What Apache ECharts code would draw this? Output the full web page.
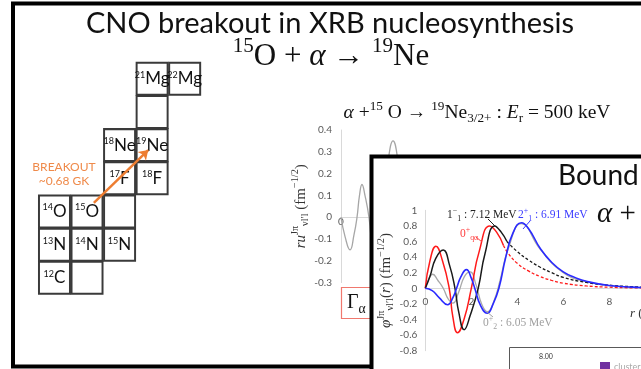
<!DOCTYPE html>
<html><head><meta charset="utf-8">
<script src="https://cdn.jsdelivr.net/npm/echarts@6/dist/echarts.min.js"></script>
<style>html,body{margin:0;padding:0;background:#fff}#c{width:641px;height:369px}</style>
</head><body><div id="c"></div>
<script>
// ---------- nuclide chart (N, Z, mass, element) ----------
const nucN    = [6, 7, 6, 7, 8, 6, 7, 8, 8, 9, 8, 9, 9, 9, 10];
const nucZ    = [6, 6, 7, 7, 7, 8, 8, 8, 9, 9, 10, 10, 11, 12, 12];
const nucMass = ['12', '', '13', '14', '15', '14', '15', '', '17', '18', '18', '19', '', '21', '22'];
const nucElem = ['C', '', 'N', 'N', 'N', 'O', 'O', '', 'F', 'F', 'Ne', 'Ne', '', 'Mg', 'Mg'];
const arrowFrom = [7.21, 8.26];
const arrowTo   = [8.88, 9.85];

// ---------- chart 1 : alpha + 15O scattering wave (r in fm, value) ----------
const wave1R = [0, 0.3, 0.66, 0.95, 1.17, 1.35, 1.53, 1.75, 2.04, 2.35, 2.65, 2.9, 3.15, 3.45, 3.8, 4.15, 4.5, 4.9, 5.3];
const wave1V = [0, -0.09, -0.15, -0.08, 0, 0.1, 0.15, 0.1, 0, -0.17, -0.22, -0.12, 0.05, 0.26, 0.35, 0.26, 0.05, -0.25, -0.3];
const y1Ticks = [-0.3, -0.2, -0.1, 0, 0.1, 0.2, 0.3, 0.4];
const x1Ticks = [0, 5, 10, 15, 20];

// ---------- chart 2 : bound-state wave functions ----------
const redSolidR = [0, 0.2, 0.46, 0.75, 1.04, 1.2, 1.4, 1.7, 2.0, 2.35, 2.8, 3.1, 3.4];
const redSolidV = [0, 0.35, 0.54, 0.35, 0, -0.37, -0.57, -0.38, 0, 0.48, 0.80, 0.72, 0.55];
const redTailR  = [3.4, 3.6, 4, 4.5, 5, 5.5, 6, 7, 8, 9, 10];
const redTailV  = [0.55, 0.45, 0.32, 0.22, 0.15, 0.1, 0.065, 0.03, 0.014, 0.006, 0.003];
const blackSolidR = [0, 0.2, 0.45, 0.78, 1.05, 1.29, 1.45, 1.69, 1.95, 2.3, 2.6, 3.02, 3.3, 3.55];
const blackSolidV = [0, 0.15, 0.38, 0.49, 0.3, 0, -0.3, -0.53, -0.35, 0, 0.45, 0.80, 0.72, 0.6];
const blackTailR  = [3.55, 4, 4.5, 5, 5.5, 6, 7, 8, 9, 10];
const blackTailV  = [0.6, 0.47, 0.36, 0.27, 0.2, 0.14, 0.075, 0.04, 0.02, 0.01];
const blueR = [0, 0.3, 0.6, 0.97, 1.2, 1.36, 1.55, 1.79, 2.0, 2.15, 2.4, 2.69, 2.95, 3.2, 3.5, 3.8, 4.18, 4.5, 5, 5.5, 6, 6.5, 7, 8, 9, 10];
const blueV = [0, -0.03, -0.12, -0.21, -0.12, 0, 0.15, 0.24, 0.13, 0, -0.22, -0.32, -0.2, 0, 0.4, 0.7, 0.84, 0.76, 0.51, 0.33, 0.21, 0.14, 0.09, 0.035, 0.015, 0.006];
const grayR = [0, 0.15, 0.32, 0.55, 0.78, 1.0, 1.2, 1.45, 1.7, 1.95, 2.2, 2.45, 2.7, 3.0, 3.25, 3.6, 4.18, 5, 6, 7, 8, 9, 10];
const grayV = [0, 0.12, 0.18, 0.1, 0, -0.14, -0.19, -0.05, 0.15, 0.21, 0.05, -0.2, -0.3, -0.15, 0.1, 0.5, 0.83, 0.5, 0.2, 0.085, 0.034, 0.014, 0.006];
const y2Ticks = [-0.8, -0.6, -0.4, -0.2, 0, 0.2, 0.4, 0.6, 0.8, 1];
const x2Ticks = [0, 2, 4, 6, 8, 10];

const zip = (a, b) => a.map((v, i) => [v, b[i]]);
const SERIF = '"Liberation Serif", "DejaVu Serif", serif';
const SANS = 'Lato, "Open Sans", sans-serif';

const cellData = nucN.map((n, i) => ({
  value: [n, nucZ[i]],
  label: { formatter: nucMass[i] ? '{m|' + nucMass[i] + '}{e|' + nucElem[i] + '}' : '' }
}));

const grayAxis = { lineStyle: { color: '#d9d9d9', width: 1 } };
const lbl = { color: '#595959', fontSize: 10, fontFamily: SANS };

const mathRich = (size, color) => ({
  t: { fontFamily: SERIF, fontSize: size, color: color },
  i: { fontFamily: SERIF, fontSize: size, fontStyle: 'italic', color: color },
  sup: { fontFamily: SERIF, fontSize: size * 0.68, color: color, padding: [0, 0, size * 0.7, 0] },
  sub: { fontFamily: SERIF, fontSize: size * 0.68, color: color, padding: [size * 0.6, 0, 0, 0] }
});
const gRich = (size, color) => ({
  t: { fontFamily: SERIF, fontSize: size, fill: color },
  i: { fontFamily: SERIF, fontSize: size, fontStyle: 'italic', fill: color },
  sup: { fontFamily: SERIF, fontSize: size * 0.68, fill: color, padding: [0, 0, size * 0.7, 0] },
  sub: { fontFamily: SERIF, fontSize: size * 0.68, fill: color, padding: [size * 0.6, 0, 0, 0] }
});

// grid geometry
const g1 = { left: 341, top: 130, width: 274, height: 152.6 };
const g2 = { left: 425.3, top: 210.3, width: 230, height: 140.4 };
const zeroOffset = (g, ticks) => -g.height * (0 - ticks[0]) / (ticks[ticks.length - 1] - ticks[0]);

const chart = echarts.init(document.getElementById('c'), null, { renderer: 'canvas' });

const option = {
  backgroundColor: '#fff',
  animation: false,
  grid: [
    { left: 38.2, top: 62.2, width: 162.75, height: 232.2, outerBoundsMode: 'none', containLabel: false },
    { ...g1, outerBoundsMode: 'none', containLabel: false },
    { ...g2, z: 60, outerBoundsMode: 'none', containLabel: false }
  ],
  xAxis: [
    { gridIndex: 0, type: 'value', min: 5.5, max: 10.5, show: false },
    { gridIndex: 1, type: 'value', min: x1Ticks[0], max: x1Ticks[x1Ticks.length - 1], interval: 5,
      position: 'bottom', offset: zeroOffset(g1, y1Ticks),
      axisLine: { onZero: false, ...grayAxis }, axisTick: { show: false }, splitLine: { show: false },
      axisLabel: { ...lbl, margin: 0 } },
    { gridIndex: 2, type: 'value', min: x2Ticks[0], max: x2Ticks[x2Ticks.length - 1], interval: 2, z: 60,
      position: 'bottom', offset: zeroOffset(g2, y2Ticks),
      axisLine: { onZero: false, ...grayAxis }, axisTick: { show: false }, splitLine: { show: false },
      axisLabel: { ...lbl, margin: 8 } }
  ],
  yAxis: [
    { gridIndex: 0, type: 'value', min: 5.5, max: 12.5, show: false },
    { gridIndex: 1, type: 'value', min: y1Ticks[0], max: y1Ticks[y1Ticks.length - 1], interval: 0.1,
      axisLine: { show: true, ...grayAxis }, axisTick: { show: false }, splitLine: { show: false },
      axisLabel: { ...lbl, margin: 9, formatter: v => v === 0 ? '0' : v.toFixed(1) },
      name: '{i|ru}{sup|Jπ}{sub|νl′l}{t| (fm}{sup|−1/2}{t|)}', nameLocation: 'middle', nameRotate: 90, nameGap: 27,
      nameTextStyle: { rich: mathRich(15, '#333') } },
    { gridIndex: 2, type: 'value', min: y2Ticks[0], max: y2Ticks[y2Ticks.length - 1], interval: 0.2, z: 60,
      axisLine: { show: true, ...grayAxis }, axisTick: { show: false }, splitLine: { show: false },
      axisLabel: { ...lbl, margin: 8, formatter: v => String(Number(v.toFixed(1))) },
      name: '{i|φ}{sup|Jπ}{sub|νl′l}{t|(}{i|r}{t|) (fm}{sup|−1/2}{t|)}', nameLocation: 'middle', nameRotate: 90, nameGap: 19,
      nameTextStyle: { rich: mathRich(15, '#333') } }
  ],
  series: [
    { type: 'scatter', xAxisIndex: 0, yAxisIndex: 0, symbol: 'rect', symbolSize: [31, 32], z: 3,
      itemStyle: { color: '#fff', borderColor: '#3a3a3a', borderWidth: 2, opacity: 1 },
      label: { show: true, position: 'inside', color: '#111',
        rich: { m: { fontFamily: SANS, fontSize: 9, color: '#111', padding: [0, 0, 8, 0] },
                e: { fontFamily: SANS, fontSize: 17, color: '#111' } } },
      data: cellData },
    { type: 'lines', coordinateSystem: 'cartesian2d', xAxisIndex: 0, yAxisIndex: 0, z: 4,
      symbol: ['none', 'arrow'], symbolSize: 9,
      lineStyle: { color: '#ed7d31', width: 2.5, opacity: 1 },
      data: [{ coords: [arrowFrom, arrowTo] }] },
    { type: 'line', xAxisIndex: 1, yAxisIndex: 1, smooth: true, showSymbol: false, z: 2,
      lineStyle: { color: '#a6a6a6', width: 1.3 }, data: zip(wave1R, wave1V) },
    { type: 'line', xAxisIndex: 2, yAxisIndex: 2, smooth: true, showSymbol: false, z: 60,
      lineStyle: { color: '#a8a8a8', width: 1.3 }, data: zip(grayR, grayV) },
    { type: 'line', xAxisIndex: 2, yAxisIndex: 2, smooth: true, showSymbol: false, z: 61,
      lineStyle: { color: '#ff1a1a', width: 1.5 }, data: zip(redSolidR, redSolidV) },
    { type: 'line', xAxisIndex: 2, yAxisIndex: 2, smooth: true, showSymbol: false, z: 61,
      lineStyle: { color: '#ff1a1a', width: 1.3, type: [3, 2] }, data: zip(redTailR, redTailV) },
    { type: 'line', xAxisIndex: 2, yAxisIndex: 2, smooth: true, showSymbol: false, z: 62,
      lineStyle: { color: '#1a1a1a', width: 1.5 }, data: zip(blackSolidR, blackSolidV) },
    { type: 'line', xAxisIndex: 2, yAxisIndex: 2, smooth: true, showSymbol: false, z: 62,
      lineStyle: { color: '#1a1a1a', width: 1.3, type: [3, 2] }, data: zip(blackTailR, blackTailV) },
    { type: 'line', xAxisIndex: 2, yAxisIndex: 2, smooth: true, showSymbol: false, z: 63,
      lineStyle: { color: '#2a2aff', width: 1.6 }, data: zip(blueR, blueV) }
  ],
  graphic: [
    { type: 'rect', z: 1, shape: { x: 13, y: 3.5, width: 800, height: 363 },
      style: { fill: 'none', stroke: '#000', lineWidth: 4 } },
    { type: 'text', z: 1, x: 330, y: 24,
      style: { text: 'CNO breakout in XRB nucleosynthesis', fontFamily: SANS, fontSize: 29, fill: '#111', align: 'center', verticalAlign: 'middle' } },
    { type: 'text', z: 1, x: 331, y: 57,
      style: { text: '{sup|15}{t|O + }{i|α}{t| → }{sup|19}{t|Ne}', rich: gRich(31, '#111'), align: 'center', verticalAlign: 'middle' } },
    { type: 'text', z: 5, x: 64, y: 167,
      style: { text: 'BREAKOUT', fontFamily: SANS, fontSize: 12, fill: '#ef8a4a', align: 'center', verticalAlign: 'middle' } },
    { type: 'text', z: 5, x: 64, y: 181,
      style: { text: '~0.68 GK', fontFamily: SANS, fontSize: 12, fill: '#ef8a4a', align: 'center', verticalAlign: 'middle' } },
    { type: 'text', z: 5, x: 477, y: 113,
      style: { text: '{i|α}{t| +}{sup|15}{t| O → }{sup|19}{t|Ne}{sub|3/2+}{t| : }{i|E}{sub|r}{t| = 500 keV}', rich: gRich(19.5, '#111'), align: 'center', verticalAlign: 'middle' } },
    { type: 'rect', z: 5, shape: { x: 341.5, y: 287.5, width: 40, height: 31 },
      style: { fill: '#fff', stroke: '#f0786e', lineWidth: 1.2 } },
    { type: 'text', z: 6, x: 347, y: 303,
      style: { text: '{t|Γ}{sub|α}', rich: gRich(20, '#111'), align: 'left', verticalAlign: 'middle' } },
    // second slide
    { type: 'rect', z: 50, shape: { x: 371.5, y: 156.5, width: 400, height: 300 },
      style: { fill: '#fff', stroke: '#000', lineWidth: 4 } },
    { type: 'text', z: 70, x: 558, y: 176,
      style: { text: 'Bound states', fontFamily: SANS, fontSize: 28, fill: '#111', align: 'left', verticalAlign: 'middle' } },
    { type: 'text', z: 70, x: 597, y: 214,
      style: { text: '{i|α}{t| +}', rich: gRich(29, '#111'), align: 'left', verticalAlign: 'middle' } },
    { type: 'text', z: 70, x: 447, y: 215,
      style: { text: '{t|1}{sup|−}{sub|1}{t| : 7.12 MeV}', rich: gRich(11.5, '#222'), align: 'left', verticalAlign: 'middle' } },
    { type: 'text', z: 70, x: 518, y: 215,
      style: { text: '{t|2}{sup|+}{sub|1}{t| : 6.91 MeV}', rich: gRich(11.5, '#3b3bff'), align: 'left', verticalAlign: 'middle' } },
    { type: 'text', z: 70, x: 460, y: 234,
      style: { text: '{t|0}{sup|+}{sub|qα}', rich: gRich(11.5, '#ff4040'), align: 'left', verticalAlign: 'middle' } },
    { type: 'text', z: 70, x: 483, y: 323,
      style: { text: '{t|0}{sup|+}{sub|2}{t| : 6.05 MeV}', rich: gRich(11.5, '#a0a0a0'), align: 'left', verticalAlign: 'middle' } },
    { type: 'line', z: 70, shape: { x1: 488, y1: 219, x2: 495, y2: 226 }, style: { stroke: '#222', lineWidth: 1 } },
    { type: 'line', z: 70, shape: { x1: 530, y1: 221, x2: 523, y2: 229 }, style: { stroke: '#3b3bff', lineWidth: 1 } },
    { type: 'line', z: 70, shape: { x1: 476, y1: 237, x2: 482, y2: 242 }, style: { stroke: '#ff4040', lineWidth: 1 } },
    { type: 'line', z: 70, shape: { x1: 493, y1: 317, x2: 487, y2: 312 }, style: { stroke: '#a0a0a0', lineWidth: 1 } },
    { type: 'text', z: 70, x: 630, y: 314,
      style: { text: '{i|r}{t| (fm)}', rich: gRich(13, '#333'), align: 'left', verticalAlign: 'middle' } },
    { type: 'rect', z: 70, shape: { x: 509.5, y: 347.5, width: 200, height: 60 },
      style: { fill: '#fff', stroke: '#595959', lineWidth: 1 } },
    { type: 'text', z: 71, x: 546, y: 357,
      style: { text: '8.00', fontFamily: SANS, fontSize: 7, fill: '#333', align: 'center', verticalAlign: 'middle' } },
    { type: 'rect', z: 71, shape: { x: 600, y: 362, width: 10, height: 10 }, style: { fill: '#7030a0' } },
    { type: 'text', z: 71, x: 614, y: 367,
      style: { text: 'cluster', fontFamily: SANS, fontSize: 9, fill: '#aaa', align: 'left', verticalAlign: 'middle' } }
  ]
};
chart.setOption(option);
</script></body></html>
